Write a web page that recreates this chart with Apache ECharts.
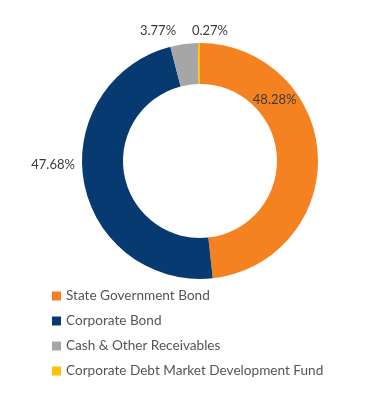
<!DOCTYPE html>
<html>
<head>
<meta charset="utf-8">
<script src="https://cdn.jsdelivr.net/npm/echarts@6/dist/echarts.min.js"></script>
<style>html,body{margin:0;padding:0;background:#fff;}#c{width:369px;height:415px;}</style>
</head>
<body>
<div id="c"></div>
<script>
const categories = ["State Government Bond", "Corporate Bond", "Cash & Other Receivables", "Corporate Debt Market Development Fund"];
const values = [48.28, 47.68, 3.77, 0.27];
const colors = ["#F58220", "#063A70", "#A6A6A6", "#FFC000"];
const labelShift = [[-65, -55], [-9, -17], [-8, -13], [29, -12]];

const chart = echarts.init(document.getElementById('c'), null, {renderer: 'canvas'});
chart.setOption({
  animation: false,
  legend: {
    orient: 'vertical',
    left: 47,
    top: 284,
    itemWidth: 9,
    itemHeight: 9,
    itemGap: 11,
    icon: 'rect',
    textStyle: {color: '#555', fontSize: 13.6, fontFamily: 'Lato'},
    data: categories
  },
  series: [{
    type: 'pie',
    center: [200, 161],
    radius: [77, 118],
    startAngle: 90,
    clockwise: true,
    avoidLabelOverlap: false,
    label: {
      show: true,
      position: 'outside',
      formatter: p => p.value.toFixed(2) + '%',
      color: '#3a3a3a',
      fontSize: 13,
      fontFamily: 'Lato',
      distanceToLabelLine: 0
    },
    labelLine: {show: false, length: 0, length2: 0},
    labelLayout: p => ({dx: labelShift[p.dataIndex][0], dy: labelShift[p.dataIndex][1]}),
    itemStyle: {borderWidth: 0},
    emphasis: {disabled: true},
    data: categories.map((n, i) => ({name: n, value: values[i], itemStyle: {color: colors[i]}}))
  }]
});
</script>
</body>
</html>
